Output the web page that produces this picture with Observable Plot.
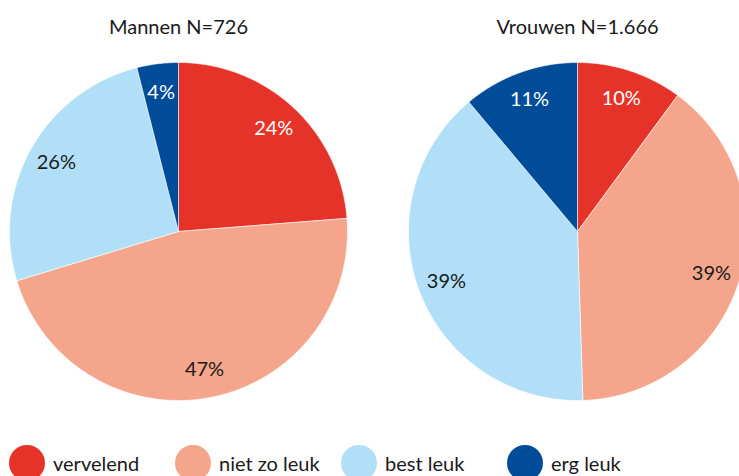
<!DOCTYPE html>
<html><head><meta charset="utf-8">
<script src="https://cdn.jsdelivr.net/npm/d3@7"></script>
<script src="https://cdn.jsdelivr.net/npm/@observablehq/plot@0.6"></script>
<style>
body{margin:0;width:739px;height:476px;overflow:hidden;background:#fff;font-family:Lato,sans-serif;color:#1a1a1a;}
#chart svg{display:block;}
#legend{position:relative;height:46px;}
.item{position:absolute;top:15px;display:flex;align-items:center;height:36px;}
.dot{width:36px;height:36px;border-radius:50%;margin-right:8px;}
.lab{font-size:20px;}
</style></head><body><div id="chart"></div><div id="legend"></div>
<script>
const groups = ["Mannen N=726", "Vrouwen N=1.666"];
const categories = ["vervelend", "niet zo leuk", "best leuk", "erg leuk"];
const mannen = [24, 47, 26, 4];
const vrouwen = [10, 39, 39, 11];

const palette = ["#e5332a", "#f4a58b", "#b1dff8", "#004c99"];
const whiteLabel = new Set(["vervelend", "erg leuk"]);

const seriesByGroup = [mannen, vrouwen];
const slices = [];
const labels = [];
groups.forEach((g, gi) => {
  const vals = seriesByGroup[gi];
  const arcs = d3.pie().sort(null)(vals);
  arcs.forEach((a, i) => {
    const cat = categories[i];
    const key = g + "|" + cat;
    slices.push({group: g, category: cat, key, x: 0, y: 0});
    const n = Math.max(2, Math.ceil((a.endAngle - a.startAngle) / (Math.PI / 360)));
    for (let k = 0; k <= n; k++) {
      const t = a.startAngle + (a.endAngle - a.startAngle) * k / n;
      slices.push({group: g, category: cat, key, x: Math.sin(t), y: Math.cos(t)});
    }
    slices.push({group: g, category: cat, key, x: 0, y: 0});
    const mid = (a.startAngle + a.endAngle) / 2;
    const rl = 0.83;
    labels.push({group: g, category: cat, value: vals[i], x: rl * Math.sin(mid), y: rl * Math.cos(mid)});
  });
});

const A = 158 / 169;
const chart = Plot.plot({
  width: 739,
  height: 430,
  marginLeft: 20,
  marginRight: 4,
  marginTop: 73,
  marginBottom: 41,
  style: {fontFamily: "Lato, sans-serif", color: "#1a1a1a", background: "transparent"},
  fx: {domain: groups, axis: null, paddingInner: 83 / 399, paddingOuter: 0},
  x: {domain: [-A, A], axis: null},
  y: {domain: [-A, A], axis: null},
  color: {domain: categories, range: palette},
  marks: [
    Plot.line(slices, {fx: "group", x: "x", y: "y", z: "key", fill: "category", stroke: "white", strokeWidth: 0.6, curve: "linear"}),
    Plot.text(labels.filter(d => whiteLabel.has(d.category)), {fx: "group", x: "x", y: "y", text: d => d.value + "%", fill: "white", fontSize: 20}),
    Plot.text(labels.filter(d => !whiteLabel.has(d.category)), {fx: "group", x: "x", y: "y", text: d => d.value + "%", fill: "#1a1a1a", fontSize: 20}),
    Plot.text(groups, {fx: d => d, text: d => d, frameAnchor: "top", lineAnchor: "middle", dy: -46, fontSize: 20, fill: "#1a1a1a"})
  ]
});
document.getElementById("chart").appendChild(chart);

const legend = document.getElementById("legend");
categories.forEach((c, i) => {
  const it = document.createElement("div");
  it.className = "item";
  it.style.left = (9 + 166 * i) + "px";
  const dot = document.createElement("div");
  dot.className = "dot";
  dot.style.background = palette[i];
  const lab = document.createElement("span");
  lab.className = "lab";
  lab.textContent = c;
  it.appendChild(dot); it.appendChild(lab);
  legend.appendChild(it);
});
</script></body></html>
